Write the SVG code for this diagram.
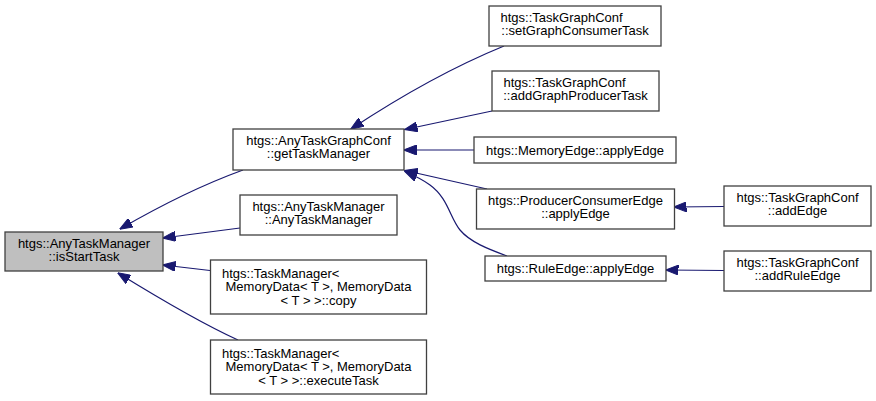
<svg xmlns="http://www.w3.org/2000/svg" width="876" height="401" viewBox="0 0 876 401">
<style>
  .box { fill: #ffffff; stroke: #404040; stroke-width: 1.3; }
  .root { fill: #bfbfbf; }
  text { font-family: "Liberation Sans", Arial, Helvetica, sans-serif; font-size: 13px; fill: #000000; }
  .c { text-anchor: middle; }
  .s { text-anchor: start; }
  .edge { fill: none; stroke: #191970; stroke-width: 1.2; marker-end: url(#arr); }
</style>
<defs>
  <marker id="arr" markerUnits="userSpaceOnUse" markerWidth="13" markerHeight="10" refX="12.5" refY="5" orient="auto" viewBox="0 0 13 10">
    <path d="M0,0 L13,5 L0,10 z" fill="#191970" stroke="#191970" stroke-width="1"/>
  </marker>
</defs>
<rect width="876" height="401" fill="#ffffff"/>
<g id="edges">
  <path class="edge" d="M243,170 C210,182 170,200 120,229"/>
  <path class="edge" d="M240,228 L163,238"/>
  <path class="edge" d="M210,270.5 L163,265"/>
  <path class="edge" d="M238,340 C205,325 165,302 118,273"/>
  <path class="edge" d="M504,46 C460,64 410,90 351,129"/>
  <path class="edge" d="M492,111 L405,129.5"/>
  <path class="edge" d="M474,150 L404,150"/>
  <path class="edge" d="M487,189 L405,170.5"/>
  <path class="edge" d="M507,256 C488,249 470,242 460,230 C450,218 448,198 430,185 C422,179 413,175 405,171.5"/>
  <path class="edge" d="M724,206.5 L674,207"/>
  <path class="edge" d="M724,270.5 L666,270"/>
</g>
<g id="n_isStartTask">
  <rect class="box root" x="5" y="232" width="158" height="39"/>
  <text class="c" x="84" y="247.5">htgs::AnyTaskManager</text>
  <text class="c" x="84" y="261">::isStartTask</text>
</g>
<g id="n_getTaskManager">
  <rect class="box" x="233" y="129" width="171" height="41"/>
  <text class="c" x="318.5" y="144.5">htgs::AnyTaskGraphConf</text>
  <text class="c" x="318.5" y="158">::getTaskManager</text>
</g>
<g id="n_AnyTaskManager">
  <rect class="box" x="240" y="195" width="157" height="40"/>
  <text class="c" x="318.5" y="210.5">htgs::AnyTaskManager</text>
  <text class="c" x="318.5" y="224">::AnyTaskManager</text>
</g>
<g id="n_copy">
  <rect class="box" x="210.5" y="260" width="216" height="54"/>
  <text class="s" x="222" y="277.5">htgs::TaskManager&lt;</text>
  <text class="c" x="318.5" y="291">MemoryData&lt; T &gt;, MemoryData</text>
  <text class="c" x="318.5" y="305">&lt; T &gt; &gt;::copy</text>
</g>
<g id="n_executeTask">
  <rect class="box" x="210.5" y="340" width="216" height="54"/>
  <text class="s" x="222" y="357.5">htgs::TaskManager&lt;</text>
  <text class="c" x="318.5" y="371">MemoryData&lt; T &gt;, MemoryData</text>
  <text class="c" x="318.5" y="385">&lt; T &gt; &gt;::executeTask</text>
</g>
<g id="n_setGraphConsumerTask">
  <rect class="box" x="489" y="6" width="172" height="40"/>
  <text class="s" x="500.5" y="21.5">htgs::TaskGraphConf</text>
  <text class="c" x="575" y="35">::setGraphConsumerTask</text>
</g>
<g id="n_addGraphProducerTask">
  <rect class="box" x="492" y="71" width="167" height="40"/>
  <text class="s" x="503.5" y="86.5">htgs::TaskGraphConf</text>
  <text class="c" x="575.5" y="100">::addGraphProducerTask</text>
</g>
<g id="n_MemoryEdge">
  <rect class="box" x="474" y="137" width="202" height="26"/>
  <text class="c" x="575" y="154.5">htgs::MemoryEdge::applyEdge</text>
</g>
<g id="n_ProducerConsumerEdge">
  <rect class="box" x="476.5" y="189" width="198" height="40"/>
  <text class="c" x="575.5" y="204.5">htgs::ProducerConsumerEdge</text>
  <text class="c" x="575.5" y="218">::applyEdge</text>
</g>
<g id="n_RuleEdge">
  <rect class="box" x="485" y="256" width="181" height="25"/>
  <text class="c" x="575.5" y="273">htgs::RuleEdge::applyEdge</text>
</g>
<g id="n_addEdge">
  <rect class="box" x="724" y="186" width="147" height="40"/>
  <text class="c" x="797.5" y="201.5">htgs::TaskGraphConf</text>
  <text class="c" x="797.5" y="215">::addEdge</text>
</g>
<g id="n_addRuleEdge">
  <rect class="box" x="724" y="251" width="147" height="40"/>
  <text class="c" x="797.5" y="266.5">htgs::TaskGraphConf</text>
  <text class="c" x="797.5" y="280">::addRuleEdge</text>
</g>
</svg>
